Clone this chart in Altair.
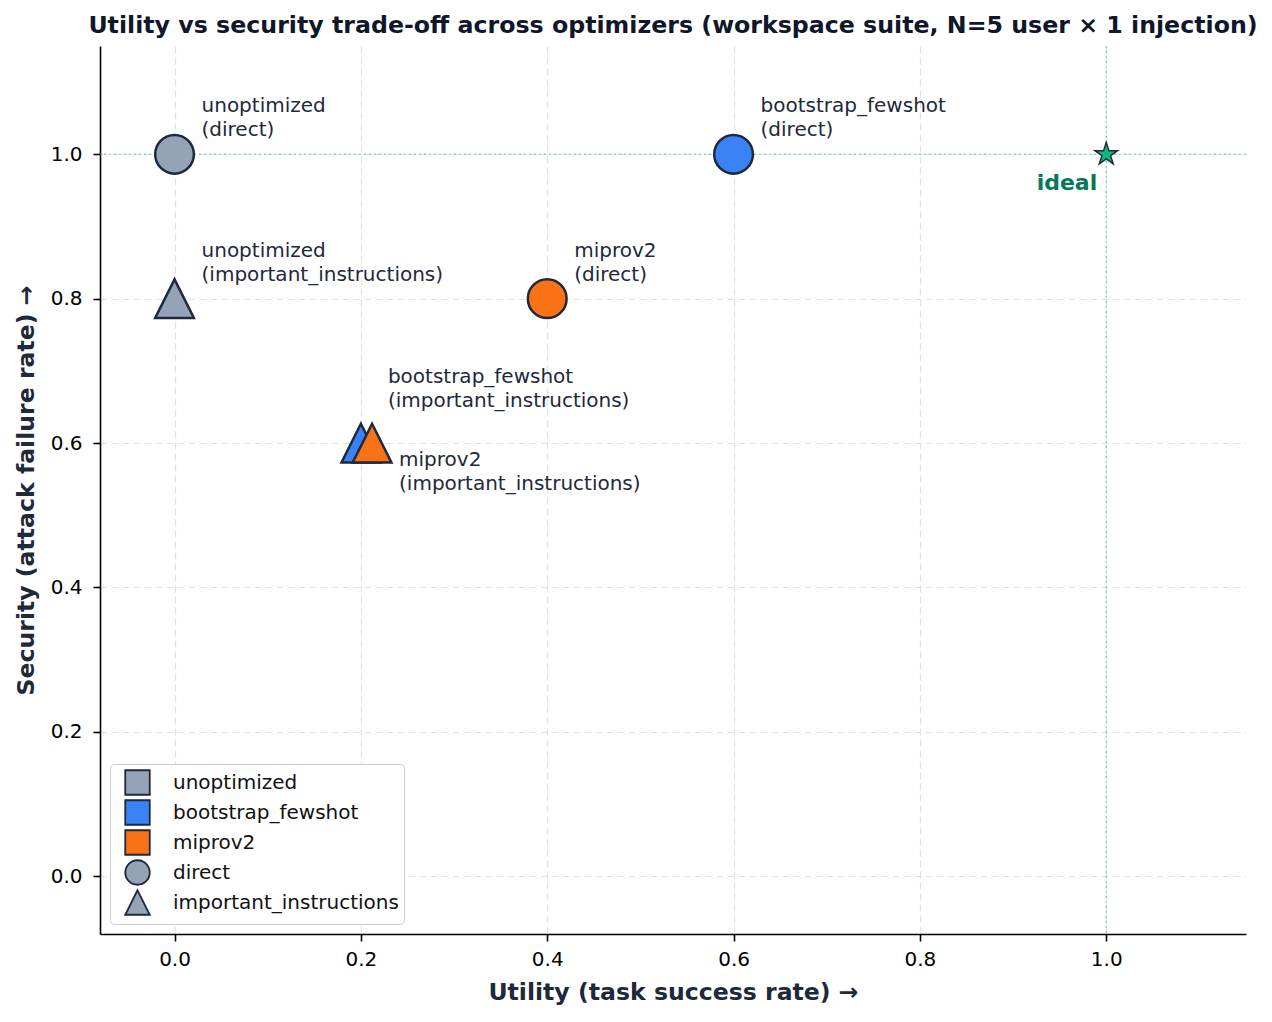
import altair as alt
import pandas as pd

# Results per (optimizer, defence strategy)
optimizer = ["unoptimized", "bootstrap_fewshot", "miprov2",
             "unoptimized", "bootstrap_fewshot", "miprov2"]
strategy = ["direct", "direct", "direct",
            "important_instructions", "important_instructions", "important_instructions"]
utility = [0.0, 0.6, 0.4, 0.0, 0.2, 0.2]
security = [1.0, 1.0, 0.8, 0.8, 0.6, 0.6]

optimizer_names = ["unoptimized", "bootstrap_fewshot", "miprov2"]
optimizer_colors = ["#94a3b8", "#3b82f6", "#f97316"]
strategy_names = ["direct", "important_instructions"]

ideal_utility = [1.0]
ideal_security = [1.0]
ideal_text = ["ideal"]

tick_values = [0.0, 0.2, 0.4, 0.6, 0.8, 1.0]

# marker outlines (unit box -1..1, scaled by vega with sqrt(size))
CIRCLE = "M1,0A1,1,0,1,1,-1,0A1,1,0,1,1,1,0Z"
TRIANGLE = "M0,-1L-1,1L1,1Z"
SQUARE = "M-1,-1L1,-1L1,1L-1,1Z"
STAR = ("M0,-1L0.2245,-0.309L0.9511,-0.309L0.3633,0.118L0.5878,0.809"
        "L0,0.382L-0.5878,0.809L-0.3633,0.118L-0.9511,-0.309L-0.2245,-0.309Z")

EDGE = "#1e293b"
FONT = "DejaVu Sans"

# vertical offsets (px) of the two-line annotation for points that need it
label_dy_default = -42
label_dy_special = {
    "bootstrap_fewshot|important_instructions": -60,
    "miprov2|important_instructions": 23,
}

df = pd.DataFrame({"optimizer": optimizer, "strategy": strategy,
                   "utility": utility, "security": security})
ideal_df = pd.DataFrame({"utility": ideal_utility, "security": ideal_security,
                         "label": ideal_text})

xscale = alt.Scale(domain=[-0.08, 1.15], nice=False, zero=False)
yscale = alt.Scale(domain=[-0.08, 1.15], nice=False, zero=False)

axis_common = dict(
    values=tick_values, format=".1f", labelFontSize=20, labelColor="#000000",
    labelFont=FONT, titleFont=FONT, titleFontSize=23.6, titleFontWeight="bold",
    titleColor=EDGE, tickColor="#000000", tickSize=7, tickWidth=1.6,
    domainColor="#000000", domainWidth=1.6, grid=True, gridColor="#dfe2e6",
    gridDash=[7, 4], gridWidth=1.2, labelFlush=False,
)
xaxis = alt.Axis(title="Utility (task success rate) →", labelPadding=8,
                 titlePadding=11, **axis_common)
yaxis = alt.Axis(title="Security (attack failure rate) →", labelPadding=11,
                 titlePadding=12, **axis_common)


def X(field):
    return alt.X(field, type="quantitative", scale=xscale, axis=xaxis)


def Y(field):
    return alt.Y(field, type="quantitative", scale=yscale, axis=yaxis)


# overlapping markers get nudged right a little so both stay visible
base = alt.Chart(df).transform_window(
    stack_rank="row_number()", groupby=["utility", "security"]
).transform_calculate(
    x_plot="datum.utility + (datum.stack_rank - 1) * 0.012",
    label="datum.optimizer + '\\n(' + datum.strategy + ')'",
    key="datum.optimizer + '|' + datum.strategy",
)

ref_style = dict(color="#10b981", opacity=0.45, strokeDash=[2, 3], strokeWidth=1.5)
ideal_v = alt.Chart(ideal_df).mark_rule(**ref_style).encode(x=X("utility"))
ideal_h = alt.Chart(ideal_df).mark_rule(**ref_style).encode(y=Y("security"))

points = base.mark_point(filled=True, opacity=1, stroke=EDGE, strokeWidth=2.5,
                         size=1500).encode(
    x=X("x_plot"),
    y=Y("security"),
    color=alt.Color("optimizer:N", legend=None,
                    scale=alt.Scale(domain=optimizer_names, range=optimizer_colors)),
    shape=alt.Shape("strategy:N", legend=None,
                    scale=alt.Scale(domain=strategy_names, range=[CIRCLE, TRIANGLE])),
)

star = alt.Chart(ideal_df).mark_point(shape=STAR, filled=True, fill="#10b981",
                                      stroke=EDGE, strokeWidth=1.5, size=560,
                                      opacity=1).encode(
    x=X("utility"), y=Y("security"))

star_label = alt.Chart(ideal_df).mark_text(
    align="right", baseline="alphabetic", dx=-9, dy=36, fontSize=22,
    fontWeight="bold", color="#047857", font=FONT).encode(
    x=X("utility"), y=Y("security"), text="label:N")

text_style = dict(align="left", baseline="alphabetic", dx=27, fontSize=20,
                  color=EDGE, font=FONT, lineBreak="\n", lineHeight=24)

special_keys = list(label_dy_special.keys())
default_filter = " && ".join(f"datum.key != '{k}'" for k in special_keys)
label_layers = [
    base.transform_filter(default_filter).mark_text(dy=label_dy_default, **text_style)
    .encode(x=X("x_plot"), y=Y("security"), text="label:N")
]
for k, dy in label_dy_special.items():
    label_layers.append(
        base.transform_filter(f"datum.key == '{k}'").mark_text(dy=dy, **text_style)
        .encode(x=X("x_plot"), y=Y("security"), text="label:N")
    )

# combined legend: optimizers (colour swatches) and strategies (marker shapes)
legend_keys = optimizer_names + strategy_names
legend_fill = optimizer_colors + ["#94a3b8", "#94a3b8"]
legend_edge = [EDGE] * len(legend_keys)
legend_shapes = [SQUARE, SQUARE, SQUARE, CIRCLE, TRIANGLE]
legend_cfg = dict(
    title=None, orient="bottom-left", offset=10, padding=5, symbolOffset=9,
    fillColor="white", strokeColor="#cccccc", cornerRadius=4,
    symbolSize=600, symbolStrokeWidth=1.8, symbolOpacity=1,
    labelFontSize=20, labelColor="#111111", labelFont=FONT,
    labelOffset=22, rowPadding=-6, labelLimit=400,
)
legend_layer = alt.Chart(pd.DataFrame({"key": legend_keys})).transform_filter(
    "false").mark_point(filled=True, strokeWidth=1.8, opacity=1).encode(
    fill=alt.Fill("key:N", scale=alt.Scale(domain=legend_keys, range=legend_fill),
                  legend=alt.Legend(**legend_cfg)),
    stroke=alt.Stroke("key:N", scale=alt.Scale(domain=legend_keys, range=legend_edge),
                      legend=alt.Legend(**legend_cfg)),
    shape=alt.Shape("key:N", scale=alt.Scale(domain=legend_keys, range=legend_shapes),
                    legend=alt.Legend(**legend_cfg)),
)

chart = alt.layer(
    ideal_v, ideal_h, points, star, star_label, *label_layers, legend_layer
).resolve_scale(
    color="independent", shape="independent", fill="independent",
    stroke="independent"
).properties(
    width=1146, height=888,
    title=alt.Title(
        "Utility vs security trade-off across optimizers (workspace suite, N=5 user × 1 injection)",
        fontSize=23.7, fontWeight="bold", color="#0f172a", anchor="middle",
        frame="group", offset=8, font=FONT),
    padding={"left": 100, "top": 46, "right": 26, "bottom": 88},
    autosize=alt.AutoSizeParams(type="none"),
).configure(font=FONT).configure_view(stroke=None)

chart.save("out.html", embed_options={"renderer": "svg", "actions": False})
